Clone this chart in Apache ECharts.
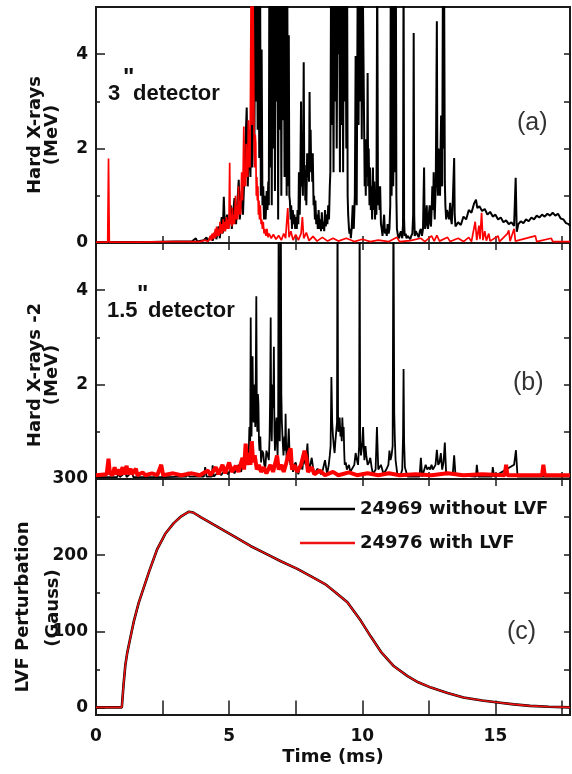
<!DOCTYPE html>
<html>
<head>
<meta charset="utf-8">
<script src="https://cdn.jsdelivr.net/npm/echarts@6/dist/echarts.min.js"></script>
<style>
html,body{margin:0;padding:0;background:#fff;}
#chart{width:572px;height:774px;}
</style>
</head>
<body>
<div id="chart"></div>
<script>
// ---------- data (time in ms) ----------
const xTicks = [0, 2.5, 5, 7.5, 10, 12.5, 15, 17.5];
const xLabels = [0, 5, 10, 15];
const yTicksA = [0, 2, 4];
const yMinorA = [1, 3];
const yRightA = [1, 2, 3, 4];
const yTicksB = [2, 4];
const yTicksC = [0, 100, 200, 300];
const yMinorC = [50, 150, 250];
const yRightC = [50, 100, 150, 200, 250];
const seriesNames = ['24969 without LVF', '24976 with LVF'];

// (a) 3" detector, MeV
const hxr3Black = [
[0,0.02],[1.0,0.02],[2.0,0.02],[3.0,0.03],[3.6,0.03],[3.75,0.1],[3.8,0.03],[4.05,0.06],[4.15,0.12],[4.2,0.03],[4.32,0.15],[4.38,0.05],[4.48,0.25],[4.52,0.08],[4.6,0.35],[4.65,0.1],[4.72,0.55],[4.76,0.2],[4.8,0.98],[4.84,0.25],[4.92,0.6],[4.97,0.3],[5.06,0.8],[5.1,0.3],[5.2,0.95],[5.26,0.4],[5.36,1.34],[5.4,0.5],[5.47,1.1],[5.52,0.6],[5.6,1.9],[5.66,2.87],[5.7,1.2],[5.75,2.4],[5.8,1.4],[5.84,3.5],[5.87,1.6],[5.9,2.6],[5.92,6],[5.95,2.2],[5.98,6],[6.01,3.0],[6.04,6],[6.07,2.4],[6.1,6],[6.13,1.8],[6.16,6],[6.19,1.0],[6.22,4.1],[6.25,0.8],[6.28,1.2],[6.31,0.5],[6.34,1.0],[6.37,0.5],[6.41,1.1],[6.44,0.7],[6.47,1.3],[6.49,0.8],[6.51,6],[6.54,1.6],[6.57,6],[6.6,0.8],[6.63,6],[6.66,2.0],[6.69,6],[6.72,1.1],[6.75,6],[6.78,3.0],[6.81,6],[6.84,0.5],[6.87,6],[6.9,2.4],[6.93,6],[6.96,1.0],[6.99,6],[7.02,2.6],[7.05,6],[7.08,1.4],[7.11,6],[7.14,3.2],[7.16,1.0],[7.18,6],[7.21,1.2],[7.24,4.4],[7.26,1.0],[7.28,0.9],[7.31,0.5],[7.33,0.8],[7.36,0.3],[7.39,0.7],[7.42,0.4],[7.45,0.6],[7.48,0.3],[7.51,0.55],[7.54,0.3],[7.57,0.7],[7.6,0.4],[7.62,1.5],[7.65,0.6],[7.67,1.2],[7.7,3.0],[7.72,1.2],[7.74,1.6],[7.77,1.0],[7.8,3.83],[7.82,1.4],[7.84,1.65],[7.86,0.9],[7.88,1.2],[7.9,0.8],[7.93,1.9],[7.95,1.4],[7.97,1.9],[8.0,1.3],[8.02,3.2],[8.04,1.8],[8.06,2.4],[8.08,1.5],[8.1,1.9],[8.12,1.3],[8.14,1.9],[8.17,0.8],[8.19,1.0],[8.22,0.5],[8.24,0.9],[8.27,0.4],[8.3,0.6],[8.33,0.3],[8.36,0.7],[8.39,0.3],[8.42,0.5],[8.45,0.25],[8.48,0.65],[8.51,0.3],[8.54,0.45],[8.57,0.25],[8.6,0.7],[8.63,0.35],[8.66,0.6],[8.69,0.4],[8.72,0.8],[8.75,0.5],[8.78,1.2],[8.8,1.5],[8.83,6],[8.86,2.5],[8.89,6],[8.92,1.5],[8.95,6],[8.98,3],[9.01,6],[9.04,2],[9.07,6],[9.1,4],[9.13,6],[9.16,1.5],[9.19,6],[9.22,2.5],[9.25,6],[9.28,1.5],[9.31,6],[9.34,3],[9.37,6],[9.4,2],[9.43,6],[9.45,1.0],[9.47,0.6],[9.5,0.3],[9.52,0.2],[9.55,0.3],[9.57,0.1],[9.6,0.3],[9.64,0.8],[9.66,0.4],[9.68,0.3],[9.72,1.0],[9.75,3.96],[9.77,1.2],[9.79,0.8],[9.83,6],[9.86,2.5],[9.89,6],[9.92,3],[9.95,6],[9.98,2.2],[10.01,6],[10.04,6],[10.07,2.4],[10.09,1.2],[10.11,2.0],[10.13,1.0],[10.15,2.2],[10.18,1.4],[10.2,3.6],[10.22,1.2],[10.24,2.0],[10.27,0.8],[10.29,1.6],[10.32,0.7],[10.34,1.2],[10.37,0.5],[10.4,1.6],[10.42,0.7],[10.45,1.3],[10.48,0.5],[10.5,1.0],[10.53,0.6],[10.56,6],[10.59,0.8],[10.62,1.2],[10.65,0.7],[10.67,1.2],[10.7,0.4],[10.73,0.3],[10.76,0.15],[10.79,0.4],[10.82,0.6],[10.85,0.2],[10.88,0.3],[10.92,0.15],[10.95,0.4],[10.99,0.2],[11.02,0.3],[11.05,0.8],[11.07,6],[11.1,1.0],[11.12,2.0],[11.14,6],[11.16,1.2],[11.18,2],[11.2,6],[11.22,6],[11.24,1.5],[11.26,6],[11.28,1.0],[11.3,0.3],[11.34,0.15],[11.38,0.1],[11.42,0.2],[11.45,0.25],[11.5,0.1],[11.53,0.4],[11.55,6],[11.57,0.5],[11.59,0.15],[11.63,0.2],[11.66,0.1],[11.7,0.15],[11.74,0.12],[11.8,0.08],[11.84,0.15],[11.88,0.2],[11.91,0.6],[11.93,4.45],[11.95,0.6],[11.97,0.15],[12.01,0.25],[12.05,0.2],[12.12,0.12],[12.16,0.25],[12.2,0.3],[12.24,0.15],[12.28,0.3],[12.32,1.6],[12.34,0.5],[12.36,0.3],[12.39,0.5],[12.42,0.8],[12.44,0.4],[12.47,0.3],[12.5,0.6],[12.53,0.8],[12.56,0.4],[12.58,0.35],[12.61,0.8],[12.63,1.2],[12.66,0.7],[12.68,1.5],[12.7,0.8],[12.72,0.5],[12.76,1.3],[12.8,4.7],[12.82,1.4],[12.84,1.0],[12.86,2.0],[12.88,1.8],[12.9,1.2],[12.92,1.0],[12.94,2.0],[12.96,2.7],[12.98,1.6],[13.0,1.2],[13.03,6],[13.05,2.0],[13.07,6],[13.1,1.3],[13.12,0.8],[13.15,0.5],[13.18,0.7],[13.22,0.6],[13.26,0.5],[13.3,0.85],[13.33,0.5],[13.36,0.4],[13.4,0.9],[13.45,1.8],[13.47,0.6],[13.5,0.35],
[13.6,0.44],[13.7,0.38],[13.8,0.56],[13.9,0.5],[14.0,0.7],[14.1,0.64],[14.2,0.84],[14.27,0.92],[14.32,0.74],[14.4,0.78],[14.5,0.68],[14.6,0.72],[14.7,0.6],[14.8,0.66],[14.9,0.56],[15.0,0.6],[15.1,0.5],[15.2,0.54],[15.3,0.44],[15.4,0.48],[15.5,0.4],[15.6,0.44],[15.7,0.36],[15.76,1.38],[15.8,0.24],[15.86,0.4],[15.95,0.46],[16.05,0.42],[16.15,0.5],[16.25,0.46],[16.35,0.54],[16.45,0.5],[16.55,0.58],[16.65,0.54],[16.75,0.6],[16.85,0.56],[16.95,0.62],[17.05,0.58],[17.15,0.64],[17.25,0.58],[17.35,0.62],[17.45,0.52],[17.55,0.5],[17.65,0.42],[17.75,0.4],[17.8,0.36]
];
const hxr3Red = [
[0,0.02],[0.44,0.02],[0.47,1.79],[0.5,0.02],[1.5,0.02],[2.8,0.03],[3.9,0.03],[4.1,0.06],[4.2,0.03],[4.3,0.15],[4.33,0.05],[4.36,0.2],[4.39,0.08],[4.42,0.22],[4.45,0.1],[4.48,0.3],[4.5,0.12],[4.53,0.35],[4.56,0.15],[4.59,0.3],[4.62,0.15],[4.66,0.45],[4.68,0.2],[4.71,0.4],[4.74,0.2],[4.78,0.5],[4.8,0.25],[4.83,0.45],[4.86,0.25],[4.9,0.55],[4.93,0.3],[4.96,0.5],[4.99,0.3],[5.02,1.7],[5.04,0.4],[5.07,0.6],[5.1,0.35],[5.12,0.75],[5.15,0.4],[5.17,0.6],[5.2,0.4],[5.24,1.0],[5.26,0.5],[5.29,0.8],[5.32,0.5],[5.35,1.2],[5.38,0.6],[5.4,0.9],[5.43,0.6],[5.47,1.5],[5.5,0.9],[5.52,1.3],[5.55,2.47],[5.57,1.2],[5.59,1.6],[5.62,1.2],[5.64,2.1],[5.66,1.4],[5.68,1.8],[5.7,1.4],[5.72,2.6],[5.74,1.6],[5.76,2.0],[5.78,1.6],[5.8,3.0],[5.83,6],[5.86,2.5],[5.89,6],[5.91,6],[5.94,2.0],[5.96,1.6],[5.98,2.3],[6.0,2.1],[6.02,1.0],[6.04,1.4],[6.06,0.9],[6.08,1.2],[6.1,0.6],[6.12,0.9],[6.14,0.5],[6.17,0.8],[6.2,0.4],[6.22,0.5],[6.25,0.3],[6.28,0.45],[6.31,0.2],[6.34,0.3],[6.38,0.15],[6.42,0.3],[6.46,0.12],[6.5,0.2],[6.58,0.1],[6.66,0.18],[6.76,0.08],[6.86,0.16],[6.96,0.06],[7.05,0.2],[7.12,0.1],[7.2,0.74],[7.25,0.12],[7.32,0.25],[7.4,0.06],[7.5,0.18],[7.6,0.06],[7.7,0.2],[7.75,0.55],[7.8,0.1],[7.9,0.22],[8.0,0.05],[8.15,0.14],[8.3,0.04],[8.5,0.12],[8.7,0.04],[8.9,0.1],[9.1,0.04],[9.4,0.1],[9.7,0.03],[10.0,0.08],[10.3,0.03],[10.6,0.06],[11.0,0.03],[11.3,0.12],[11.4,0.03],[11.8,0.05],[12.2,0.1],[12.35,0.03],[12.6,0.15],[12.7,0.04],[12.8,0.16],[12.9,0.04],[13.2,0.12],[13.3,0.03],[13.6,0.1],[13.8,0.03],[14.0,0.12],[14.1,0.03],[14.24,0.45],[14.3,0.06],[14.38,0.37],[14.42,0.08],[14.48,0.64],[14.53,0.06],[14.6,0.25],[14.66,0.05],[14.75,0.2],[14.8,0.04],[15.1,0.15],[15.15,0.03],[15.45,0.2],[15.5,0.27],[15.55,0.04],[15.7,0.3],[15.75,0.04],[16.5,0.15],[16.55,0.03],[17.1,0.1],[17.15,0.03],[17.8,0.03]
];

// (b) 1.5" detector, MeV
const hxr15Black = [
[0,0.04],[0.8,0.04],[0.85,0.15],[0.9,0.04],[1.1,0.14],[1.15,0.04],[1.35,0.15],[1.4,0.04],[2.6,0.04],[3.4,0.05],[3.45,0.15],[3.5,0.05],[4.05,0.05],[4.1,0.25],[4.15,0.05],[4.35,0.05],[4.38,0.29],[4.42,0.05],[4.6,0.15],[4.7,0.08],[4.85,0.2],[4.95,0.1],[5.1,0.25],[5.2,0.12],[5.35,0.3],[5.45,0.15],[5.55,0.45],[5.62,0.3],[5.7,0.6],[5.73,0.4],[5.76,1.1],[5.79,0.8],[5.81,3.42],[5.83,1.2],[5.84,0.9],[5.86,1.8],[5.88,2.6],[5.9,1.4],[5.92,1.2],[5.94,2.0],[5.96,1.8],[5.98,1.1],[6.0,2.2],[6.02,3.87],[6.04,1.4],[6.06,1.0],[6.08,1.8],[6.1,1.6],[6.12,0.8],[6.14,0.6],[6.17,0.9],[6.2,0.35],[6.24,0.6],[6.28,0.55],[6.32,0.3],[6.36,0.25],[6.4,0.6],[6.45,0.5],[6.49,0.4],[6.52,0.9],[6.54,1.8],[6.56,3.42],[6.58,1.2],[6.6,0.8],[6.62,1.6],[6.64,2.0],[6.66,1.5],[6.68,2.8],[6.7,1.0],[6.72,0.6],[6.75,1.1],[6.78,1.3],[6.8,0.7],[6.82,0.5],[6.84,1.2],[6.86,6],[6.88,1.4],[6.9,0.8],[6.92,1.6],[6.94,6],[6.96,1.8],[6.98,1.2],[7.01,0.8],[7.04,0.5],[7.06,0.7],[7.08,0.9],[7.1,0.6],[7.12,1.38],[7.14,0.7],[7.16,0.4],[7.2,0.6],[7.24,1.07],[7.27,0.5],[7.3,0.3],[7.35,0.45],[7.4,0.15],[7.45,0.3],[7.5,0.35],[7.55,0.2],[7.6,0.1],[7.65,0.25],[7.7,0.3],[7.75,0.2],[7.8,0.5],[7.84,0.35],[7.88,0.3],[7.94,0.75],[7.97,0.4],[8.0,0.2],[8.05,0.3],[8.1,0.45],[8.15,0.25],[8.2,0.1],[8.32,0.22],[8.45,0.1],[8.52,0.2],[8.6,0.4],[8.68,0.1],[8.74,0.3],[8.78,0.5],[8.81,0.7],[8.84,2.16],[8.87,1.2],[8.9,0.9],[8.93,0.7],[8.96,0.55],[8.99,0.8],[9.02,1.0],[9.05,1.2],[9.07,6],[9.09,1.2],[9.1,1.0],[9.13,1.2],[9.15,1.3],[9.18,0.9],[9.2,1.1],[9.23,0.8],[9.25,1.3],[9.28,0.9],[9.3,1.1],[9.32,0.6],[9.34,0.3],[9.38,0.35],[9.42,0.2],[9.46,0.25],[9.5,0.3],[9.55,0.15],[9.6,0.12],[9.7,0.3],[9.75,0.55],[9.8,0.4],[9.84,0.3],[9.88,0.7],[9.9,6],[9.92,0.8],[9.95,0.5],[9.99,0.7],[10.03,1.1],[10.06,0.6],[10.08,0.4],[10.12,0.7],[10.15,0.5],[10.2,0.3],[10.25,0.35],[10.3,0.45],[10.35,0.25],[10.4,0.1],[10.5,0.2],[10.55,1.1],[10.6,0.2],[10.7,0.3],[10.8,0.1],[10.9,0.2],[10.98,0.3],[11.02,0.6],[11.06,0.4],[11.1,0.5],[11.14,0.7],[11.17,6],[11.2,1.4],[11.22,0.9],[11.25,0.4],[11.32,0.08],[11.45,0.1],[11.5,0.2],[11.53,0.9],[11.55,2.33],[11.57,0.8],[11.6,0.25],[11.7,0.05],[12.15,0.05],[12.2,0.45],[12.25,0.05],[12.38,0.3],[12.44,0.2],[12.5,0.25],[12.55,0.2],[12.6,0.3],[12.65,0.2],[12.7,0.2],[12.75,0.3],[12.8,0.62],[12.85,0.3],[12.9,0.35],[12.95,0.55],[13.0,0.2],[13.05,0.35],[13.1,0.77],[13.15,0.1],[13.4,0.12],[13.45,0.5],[13.5,0.08],[14.27,0.05],[14.3,0.3],[14.35,0.05],[14.87,0.05],[14.9,0.25],[14.95,0.05],[15.7,0.3],[15.77,0.61],[15.83,0.05],[17.8,0.05]
];
const hxr15Red = [
[0,0.08],[0.4,0.1],[0.47,0.43],[0.52,0.12],[0.62,0.08],[0.7,0.25],[0.75,0.1],[0.85,0.2],[0.9,0.08],[1.0,0.25],[1.05,0.1],[1.15,0.28],[1.2,0.1],[1.3,0.22],[1.35,0.1],[1.5,0.22],[1.55,0.08],[1.75,0.14],[1.85,0.08],[2.1,0.12],[2.3,0.08],[2.45,0.3],[2.52,0.08],[2.9,0.12],[3.2,0.08],[3.6,0.12],[3.9,0.08],[4.2,0.18],[4.3,0.08],[4.5,0.25],[4.6,0.1],[4.75,0.3],[4.85,0.12],[5.0,0.35],[5.1,0.15],[5.25,0.28],[5.35,0.15],[5.5,0.45],[5.56,0.2],[5.62,0.75],[5.68,0.3],[5.75,0.55],[5.8,0.3],[5.85,0.8],[5.9,0.35],[5.96,0.5],[6.04,0.2],[6.12,0.3],[6.2,0.15],[6.3,0.25],[6.4,0.12],[6.55,0.3],[6.65,0.15],[6.8,0.5],[6.86,0.2],[6.96,0.3],[7.05,0.15],[7.15,0.35],[7.24,0.55],[7.31,0.65],[7.36,0.2],[7.45,0.3],[7.55,0.15],[7.7,0.3],[7.83,0.6],[7.9,0.45],[7.96,0.15],[8.1,0.25],[8.2,0.1],[8.4,0.18],[8.6,0.08],[8.9,0.15],[9.1,0.08],[9.5,0.14],[9.8,0.08],[10.2,0.12],[10.6,0.08],[11.0,0.12],[11.4,0.08],[12.0,0.1],[12.6,0.08],[13.2,0.12],[13.8,0.08],[14.5,0.1],[15.35,0.08],[15.4,0.3],[15.45,0.08],[16.75,0.08],[16.8,0.3],[16.85,0.08],[17.8,0.08]
];

// (c) LVF perturbation, Gauss
const lvfBlack = [[0,0],[0.97,0],[1.03,28],[1.1,55],[1.17,71],[1.3,93],[1.42,113],[1.6,137],[1.79,157],[2.0,179],[2.3,208],[2.6,228],[2.92,242],[3.2,251],[3.49,257],[3.65,256],[3.93,250],[4.42,240],[5.17,225],[5.8,212],[6.43,201],[6.94,192],[7.56,182],[8.18,170],[8.6,162],[8.93,153],[9.44,138],[9.94,114],[10.32,93],[10.7,73],[11.19,54],[11.7,41],[12.1,33],[12.58,26],[13.2,19],[13.8,13],[14.5,9],[15.1,6.5],[15.7,4],[16.3,2],[17.0,0.8],[17.8,0]];
const lvfRed = [[0,0],[0.97,0],[1.03,28],[1.1,55],[1.17,71],[1.3,93],[1.42,113],[1.6,137],[1.79,157],[2.0,179],[2.3,208],[2.6,228],[2.92,242],[3.2,251],[3.49,257],[3.65,256],[3.93,250],[4.42,240],[5.17,225],[5.8,212],[6.43,201],[6.94,192],[7.56,182],[8.18,170],[8.6,162],[8.93,153],[9.44,138],[9.94,114],[10.32,93],[10.7,73],[11.19,54],[11.7,41],[12.1,33],[12.58,26],[13.2,19],[13.8,13],[14.5,9],[15.1,6.5],[15.7,4],[16.3,2],[17.0,0.8],[17.8,0]];

// ---------- layout / style ----------
const X_MIN = 0, X_MAX = 17.8;
const AX = '#1a1a1a';
const labelFont = {fontFamily:'DejaVu Sans', fontWeight:'bold', fontSize:17, color:'#111'};

function xAx(grid, pos, labels, name) {
  const a = {
    type:'value', gridIndex:grid, position:pos, min:X_MIN, max:X_MAX,
    axisLine:{show:false}, splitLine:{show:false},
    axisTick:{show:true, inside:true, length:7, customValues:xTicks, lineStyle:{color:AX, width:1.5}},
    axisLabel:{show:false}
  };
  if (labels) {
    a.axisLabel = Object.assign({show:true, margin:13, customValues:labels}, labelFont);
  }
  if (name) {
    a.name = name; a.nameLocation = 'middle'; a.nameGap = 33;
    a.nameTextStyle = {fontFamily:'DejaVu Sans', fontWeight:'bold', fontSize:18, color:'#111'};
  }
  return a;
}
function yAx(grid, pos, min, max, ticks, len, labels) {
  const a = {
    type:'value', gridIndex:grid, position:pos, min:min, max:max,
    axisLine:{show:false}, splitLine:{show:false},
    axisTick:{show:true, inside:true, length:len, customValues:ticks, lineStyle:{color:AX, width:1.5}},
    axisLabel:{show:false}
  };
  if (labels) a.axisLabel = Object.assign({show:true, margin:8, customValues:labels}, labelFont);
  return a;
}

const gridA = {left:96, top:7, width:474, height:236};
const gridB = {left:96, top:243, width:474, height:236};
const gridC = {left:96, top:479, width:474, height:236};
[gridA, gridB, gridC].forEach(g => { g.show = true; g.borderColor = AX; g.borderWidth = 2; g.backgroundColor = 'transparent'; });

function lineS(name, x, y, data, color, width, z) {
  return {name:name, type:'line', xAxisIndex:x, yAxisIndex:y, data:data, showSymbol:false, symbol:'none',
    lineStyle:{color:color, width:width}, itemStyle:{color:color}, clip:true, z:z, silent:true};
}

const vText = (x, y, t) => ({type:'text', x:x, y:y, rotation:Math.PI/2, silent:true,
  style:{text:t, fontFamily:'DejaVu Sans', fontWeight:'bold', fontSize:18, fill:'#111', align:'center', verticalAlign:'middle'}});
const hText = (x, y, t, size, va, weight, family, color) => ({type:'text', x:x, y:y, silent:true,
  style:{text:t, fontFamily:family || 'Liberation Sans', fontWeight:weight || 'bold', fontSize:size, fill:color || '#111', align:'left', verticalAlign:va || 'middle'}});

const option = {
  animation:false,
  backgroundColor:'#fff',
  grid:[gridA, gridB, gridC],
  xAxis:[
    xAx(0,'bottom'), xAx(0,'top'),
    xAx(1,'bottom'), xAx(1,'top'),
    xAx(2,'bottom', xLabels, 'Time (ms)'), xAx(2,'top')
  ],
  yAxis:[
    yAx(0,'left',0,5,yTicksA,9,yTicksA), yAx(0,'left',0,5,yMinorA,4), yAx(0,'right',0,5,yRightA,6),
    yAx(1,'left',0,5,yTicksB,9,yTicksB), yAx(1,'left',0,5,yMinorA,4), yAx(1,'right',0,5,yRightA,6),
    yAx(2,'left',-10,300,yTicksC,9,yTicksC), yAx(2,'left',-10,300,yMinorC,4), yAx(2,'right',-10,300,yRightC,6)
  ],
  legend:{
    left:295, top:493, orient:'vertical', itemWidth:55, itemHeight:2.5, itemGap:12, icon:'rect',
    data:seriesNames,
    textStyle:{fontFamily:'DejaVu Sans', fontWeight:'bold', fontSize:18, color:'#111', lineHeight:22},
    selectedMode:false
  },
  series:[
    lineS('a-black', 0, 0, hxr3Black, '#000', 2, 2),
    lineS('a-red', 0, 0, hxr3Red, '#ff0000', 1.7, 3),
    lineS('b-black', 2, 3, hxr15Black, '#000', 1.8, 2),
    lineS('b-red', 2, 3, hxr15Red, '#ff0000', 4, 3),
    lineS(seriesNames[0], 4, 6, lvfBlack, '#000', 2.6, 2),
    lineS(seriesNames[1], 4, 6, lvfRed, '#ee1111', 1.6, 3)
  ],
  graphic:[
    vText(35,135,'Hard X-rays'), vText(52,135,'(MeV)'),
    vText(35,375,'Hard X-rays -2'), vText(52,375,'(MeV)'),
    vText(23,607,'LVF Perturbation'), vText(53,608,'(Gauss)'),
    hText(108,94,'3',22), hText(123,66,'"',24,'top'), hText(133,94,'detector',22),
    hText(107,311,'1.5',22), hText(137,283,'"',24,'top'), hText(148,311,'detector',22),
    hText(517,123,'(a)',25,'middle','normal','Liberation Sans','#333'),
    hText(513,383,'(b)',25,'middle','normal','Liberation Sans','#333'),
    hText(507,632,'(c)',25,'middle','normal','Liberation Sans','#333')
  ]
};

const chart = echarts.init(document.getElementById('chart'), null, {renderer:'canvas'});
chart.setOption(option);
</script>
</body>
</html>
